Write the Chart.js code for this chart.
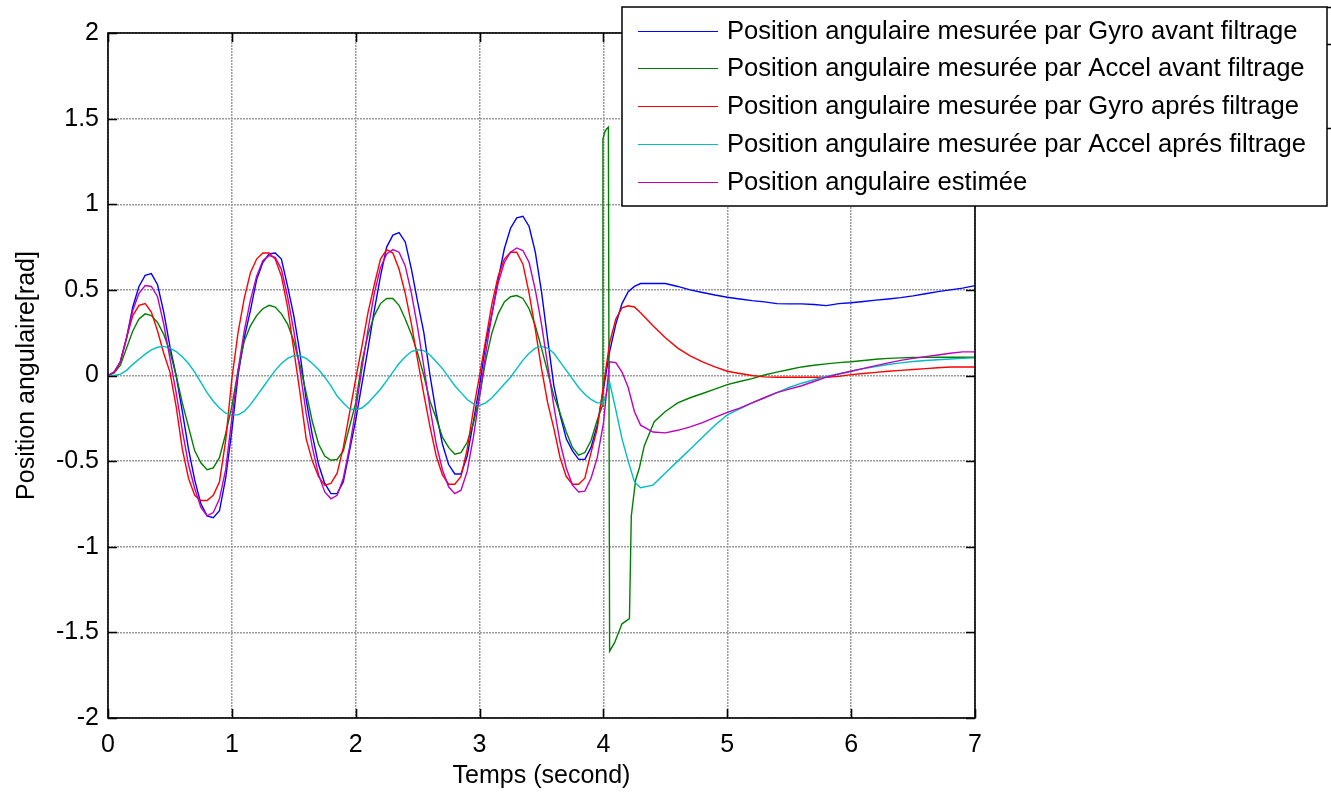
<!DOCTYPE html>
<html>
<head>
<meta charset="utf-8">
<title>Position angulaire</title>
<script src="https://cdn.jsdelivr.net/npm/chart.js@4/dist/chart.umd.min.js"></script>
<style>
  html, body { margin: 0; padding: 0; background: #fff; }
  canvas { display: block; }
</style>
</head>
<body>
<canvas id="graphe" width="1331" height="792"></canvas>
<script>
// temps d'échantillonnage (s)
const temps = [
  0, 0.05, 0.1, 0.15, 0.2, 0.25, 0.3, 0.35, 0.4, 0.45, 0.5, 0.55, 0.6, 0.65, 0.7, 0.75, 0.8, 0.85, 0.9, 0.95,
  1, 1.05, 1.1, 1.15, 1.2, 1.25, 1.3, 1.35, 1.4, 1.45, 1.5, 1.55, 1.6, 1.65, 1.7, 1.75, 1.8, 1.85, 1.9, 1.95,
  2, 2.05, 2.1, 2.15, 2.2, 2.25, 2.3, 2.35, 2.4, 2.45, 2.5, 2.55, 2.6, 2.65, 2.7, 2.75, 2.8, 2.85, 2.9, 2.95,
  3, 3.05, 3.1, 3.15, 3.2, 3.25, 3.3, 3.35, 3.4, 3.45, 3.5, 3.55, 3.6, 3.65, 3.7, 3.75, 3.8, 3.85, 3.9, 3.95,
  4, 4.05, 4.1, 4.15, 4.2, 4.25,
  4.3, 4.4, 4.5, 4.6, 4.7, 4.8, 4.9, 5, 5.1, 5.2, 5.3, 5.4, 5.5, 5.6, 5.7, 5.8, 5.9,
  6, 6.1, 6.2, 6.3, 6.4, 6.5, 6.6, 6.7, 6.8, 6.9, 7
];

// gyro avant filtrage
const gyroBrut = [
  0, 0.02, 0.08, 0.22, 0.40, 0.52, 0.585, 0.595, 0.53, 0.37, 0.17, 0.0, -0.21, -0.43, -0.61, -0.75, -0.82, -0.83, -0.79, -0.60,
  -0.32, 0.0, 0.22, 0.38, 0.56, 0.66, 0.71, 0.715, 0.68, 0.52, 0.35, 0.13, -0.14, -0.35, -0.52, -0.63, -0.69, -0.69, -0.62, -0.44,
  -0.26, -0.05, 0.16, 0.38, 0.58, 0.75, 0.82, 0.835, 0.78, 0.62, 0.43, 0.25, 0.0, -0.22, -0.40, -0.52, -0.575, -0.575, -0.47, -0.27,
  -0.06, 0.19, 0.36, 0.56, 0.74, 0.86, 0.92, 0.93, 0.87, 0.72, 0.49, 0.21, -0.06, -0.23, -0.37, -0.44, -0.49, -0.49, -0.42, -0.29,
  -0.08, 0.14, 0.30, 0.42, 0.49, 0.52,
  0.537, 0.537, 0.537, 0.52, 0.50, 0.485, 0.47, 0.457, 0.447, 0.437, 0.43, 0.42, 0.418, 0.418, 0.415, 0.408, 0.42,
  0.425, 0.432, 0.44, 0.447, 0.455, 0.465, 0.477, 0.49, 0.50, 0.51, 0.525
];

// accéléromètre avant filtrage : même échantillonnage jusqu'à 3.95 s, puis le saut vers 4 s
const tempsSautAccel = [
  3.99, 3.996, 4.01, 4.025, 4.04, 4.05, 4.09, 4.15, 4.21, 4.225,
  4.26, 4.29, 4.33, 4.41, 4.5, 4.6, 4.7, 4.8, 4.9, 5,
  5.1, 5.2, 5.3, 5.4, 5.5, 5.6, 5.7, 5.8, 5.9, 6,
  6.1, 6.2, 6.3, 6.4, 6.5, 6.6, 6.7, 6.8, 6.9, 7
];
const accelBrut = [
  0, 0.015, 0.06, 0.16, 0.26, 0.33, 0.36, 0.35, 0.31, 0.24, 0.14, 0.0, -0.16, -0.30, -0.44, -0.51, -0.55, -0.54, -0.48, -0.34,
  -0.18, 0.03, 0.20, 0.29, 0.35, 0.39, 0.41, 0.40, 0.36, 0.30, 0.20, 0.06, -0.10, -0.27, -0.40, -0.47, -0.495, -0.49, -0.44, -0.30,
  -0.16, 0.08, 0.24, 0.35, 0.42, 0.45, 0.45, 0.41, 0.33, 0.24, 0.13, 0.0, -0.15, -0.25, -0.36, -0.42, -0.46, -0.45, -0.39, -0.28,
  -0.12, 0.09, 0.25, 0.36, 0.43, 0.46, 0.467, 0.45, 0.39, 0.29, 0.16, 0.02, -0.12, -0.22, -0.33, -0.42, -0.465, -0.45, -0.38, -0.26,
  -0.18, 1.38, 1.42, 1.44, 1.45, -1.61, -1.56, -1.45, -1.42, -0.82,
  -0.61, -0.54, -0.41, -0.27, -0.21, -0.16, -0.13, -0.105, -0.08, -0.053,
  -0.035, -0.018, 0.003, 0.02, 0.035, 0.05, 0.06, 0.068, 0.075, 0.08,
  0.088, 0.095, 0.10, 0.103, 0.105, 0.106, 0.107, 0.107, 0.107, 0.107
];

// gyro après filtrage
const gyroFiltre = [
  0, 0.02, 0.08, 0.22, 0.35, 0.41, 0.42, 0.37, 0.26, 0.13, 0.02, -0.18, -0.43, -0.60, -0.70, -0.73, -0.73, -0.70, -0.62, -0.38,
  -0.02, 0.25, 0.45, 0.60, 0.68, 0.715, 0.715, 0.68, 0.58, 0.40, 0.15, -0.10, -0.37, -0.50, -0.59, -0.64, -0.63, -0.57, -0.42, -0.22,
  -0.02, 0.17, 0.37, 0.53, 0.68, 0.735, 0.715, 0.62, 0.48, 0.30, 0.09, -0.11, -0.30, -0.47, -0.58, -0.635, -0.635, -0.59, -0.43, -0.20,
  0.0, 0.21, 0.42, 0.58, 0.68, 0.72, 0.72, 0.65, 0.48, 0.27, 0.04, -0.16, -0.31, -0.48, -0.59, -0.635, -0.635, -0.60, -0.45, -0.31,
  -0.06, 0.19, 0.33, 0.395, 0.407, 0.40,
  0.366, 0.29, 0.22, 0.16, 0.115, 0.08, 0.05, 0.025, 0.012, 0.0, -0.008, -0.01, -0.01, -0.01, -0.01, -0.01, -0.005,
  0.005, 0.012, 0.018, 0.025, 0.03, 0.035, 0.04, 0.045, 0.05, 0.05, 0.05
];

// accéléromètre après filtrage
const accelFiltre = [
  0, 0.0, 0.008, 0.03, 0.065, 0.095, 0.125, 0.15, 0.165, 0.17, 0.16, 0.14, 0.11, 0.07, 0.02, -0.04, -0.10, -0.15, -0.19, -0.22,
  -0.23, -0.23, -0.21, -0.17, -0.12, -0.07, -0.02, 0.03, 0.07, 0.10, 0.115, 0.115, 0.10, 0.07, 0.035, -0.01, -0.06, -0.12, -0.16, -0.195,
  -0.20, -0.19, -0.16, -0.12, -0.08, -0.03, 0.02, 0.07, 0.11, 0.14, 0.15, 0.145, 0.12, 0.08, 0.04, -0.01, -0.06, -0.10, -0.14, -0.165,
  -0.175, -0.16, -0.13, -0.09, -0.05, -0.01, 0.04, 0.09, 0.13, 0.16, 0.17, 0.16, 0.13, 0.08, 0.03, -0.02, -0.07, -0.11, -0.14, -0.16,
  -0.16, -0.04, -0.20, -0.37, -0.50, -0.62,
  -0.655, -0.64, -0.57, -0.50, -0.43, -0.36, -0.29, -0.23, -0.195, -0.16, -0.13, -0.10, -0.07, -0.045, -0.025, -0.005, 0.01,
  0.025, 0.04, 0.052, 0.064, 0.074, 0.082, 0.088, 0.092, 0.096, 0.10, 0.103
];

// position estimée
const estimee = [
  0, 0.02, 0.08, 0.22, 0.38, 0.48, 0.525, 0.52, 0.46, 0.30, 0.10, -0.10, -0.32, -0.52, -0.66, -0.77, -0.82, -0.80, -0.72, -0.55,
  -0.25, 0.03, 0.26, 0.44, 0.58, 0.67, 0.70, 0.69, 0.62, 0.46, 0.26, 0.03, -0.22, -0.42, -0.58, -0.68, -0.72, -0.70, -0.60, -0.42,
  -0.20, 0.04, 0.27, 0.48, 0.63, 0.71, 0.735, 0.72, 0.64, 0.48, 0.28, 0.05, -0.19, -0.40, -0.55, -0.65, -0.69, -0.67, -0.56, -0.36,
  -0.12, 0.13, 0.36, 0.54, 0.66, 0.72, 0.745, 0.73, 0.66, 0.50, 0.30, 0.06, -0.18, -0.39, -0.54, -0.64, -0.68, -0.675, -0.60, -0.48,
  -0.28, 0.08, 0.075, 0.02, -0.07, -0.21,
  -0.29, -0.33, -0.335, -0.32, -0.30, -0.275, -0.245, -0.215, -0.19, -0.16, -0.13, -0.10, -0.08, -0.06, -0.035, -0.01, 0.008,
  0.025, 0.042, 0.058, 0.074, 0.088, 0.10, 0.11, 0.12, 0.13, 0.138, 0.138
];

const ticksX = [0, 1, 2, 3, 4, 5, 6, 7];
const ticksY = [-2, -1.5, -1, -0.5, 0, 0.5, 1, 1.5, 2];

const libelles = [
  'Position angulaire mesurée par Gyro avant filtrage',
  'Position angulaire mesurée par Accel avant filtrage',
  'Position angulaire mesurée par Gyro aprés filtrage',
  'Position angulaire mesurée par Accel aprés filtrage',
  'Position angulaire estimée'
];
const couleurs = ['#0000ff', '#008000', '#ff0000', '#00bfbf', '#bf00bf'];

const POLICE = '"Liberation Sans", Arial, sans-serif';

function points(xs, ys) {
  return ys.map((v, i) => ({ x: xs[i], y: v }));
}
const tempsAccel = temps.slice(0, 80).concat(tempsSautAccel);
const series = [
  points(temps, gyroBrut),
  points(tempsAccel, accelBrut),
  points(temps, gyroFiltre),
  points(temps, accelFiltre),
  points(temps, estimee)
];

// cadre fermé avec graduations intérieures, puis la légende par-dessus
const cadre = {
  id: 'cadre',
  afterDraw(chart) {
    const { ctx, chartArea: a, scales } = chart;
    const L = 9;
    ctx.save();
    ctx.strokeStyle = '#000';
    ctx.lineWidth = 1.6;
    ctx.strokeRect(a.left, a.top, a.right - a.left, a.bottom - a.top);
    ctx.beginPath();
    ticksX.forEach(v => {
      const px = Math.round(scales.x.getPixelForValue(v)) + 0.5;
      ctx.moveTo(px, a.bottom); ctx.lineTo(px, a.bottom - L);
      ctx.moveTo(px, a.top); ctx.lineTo(px, a.top + L);
    });
    ticksY.forEach(v => {
      const py = Math.round(scales.y.getPixelForValue(v)) + 0.5;
      ctx.moveTo(a.left, py); ctx.lineTo(a.left + L, py);
      ctx.moveTo(a.right, py); ctx.lineTo(a.right - L, py);
    });
    ctx.stroke();

    // légende
    const bx = 622, by = 7, bw = 705, bh = 199;
    ctx.fillStyle = '#fff';
    ctx.fillRect(bx, by, bw, bh);
    ctx.lineWidth = 1.5;
    ctx.strokeRect(bx, by, bw, bh);
    ctx.beginPath();
    ctx.moveTo(bx + bw, 7.5); ctx.lineTo(1331, 7.5);
    ctx.moveTo(bx + bw, 44.5); ctx.lineTo(1331, 44.5);
    ctx.moveTo(bx + bw, 128.5); ctx.lineTo(1331, 128.5);
    ctx.stroke();
    ctx.font = '25.6px ' + POLICE;
    ctx.textBaseline = 'middle';
    ctx.textAlign = 'left';
    libelles.forEach((txt, i) => {
      const yy = 30.5 + i * 37.8;
      ctx.strokeStyle = couleurs[i];
      ctx.lineWidth = 1.2;
      ctx.beginPath();
      ctx.moveTo(638, Math.round(yy) + 0.5);
      ctx.lineTo(718, Math.round(yy) + 0.5);
      ctx.stroke();
      ctx.fillStyle = '#000';
      ctx.fillText(txt, 727, yy + 1);
    });
    ctx.restore();
  }
};

const grille = { color: '#9a9a9a', lineWidth: 1.5, drawTicks: false };

new Chart(document.getElementById('graphe'), {
  type: 'line',
  data: {
    datasets: series.map((d, i) => ({
      label: libelles[i],
      data: d,
      borderColor: couleurs[i],
      backgroundColor: couleurs[i],
      borderWidth: 1.4,
      pointRadius: 0,
      tension: 0,
      fill: false,
      order: 5 - i
    }))
  },
  options: {
    responsive: false,
    animation: false,
    devicePixelRatio: 1,
    layout: { padding: { top: 33, right: 356, left: 0, bottom: 0 } },
    plugins: {
      legend: { display: false },
      tooltip: { enabled: false }
    },
    scales: {
      x: {
        type: 'linear',
        min: 0,
        max: 7,
        afterBuildTicks: s => { s.ticks = ticksX.map(v => ({ value: v })); },
        afterFit: s => { s.height = 74; },
        border: { display: false, dash: [2, 1] },
        grid: grille,
        ticks: {
          padding: 12,
          color: '#000',
          font: { family: POLICE, size: 25 },
          maxRotation: 0,
          callback: v => String(v)
        },
        title: {
          display: true,
          text: 'Temps (second)',
          color: '#000',
          font: { family: POLICE, size: 25 },
          padding: { top: 0, bottom: 1 }
        }
      },
      y: {
        min: -2,
        max: 2,
        afterBuildTicks: s => { s.ticks = ticksY.map(v => ({ value: v })); },
        afterFit: s => { s.width = 108; },
        border: { display: false, dash: [2, 1] },
        grid: grille,
        ticks: {
          padding: 9,
          color: '#000',
          font: { family: POLICE, size: 25 },
          callback: v => String(v)
        },
        title: {
          display: true,
          text: 'Position angulaire[rad]',
          color: '#000',
          font: { family: POLICE, size: 25 },
          padding: { top: 12, bottom: 0 }
        }
      }
    }
  },
  plugins: [cadre]
});
</script>
</body>
</html>
